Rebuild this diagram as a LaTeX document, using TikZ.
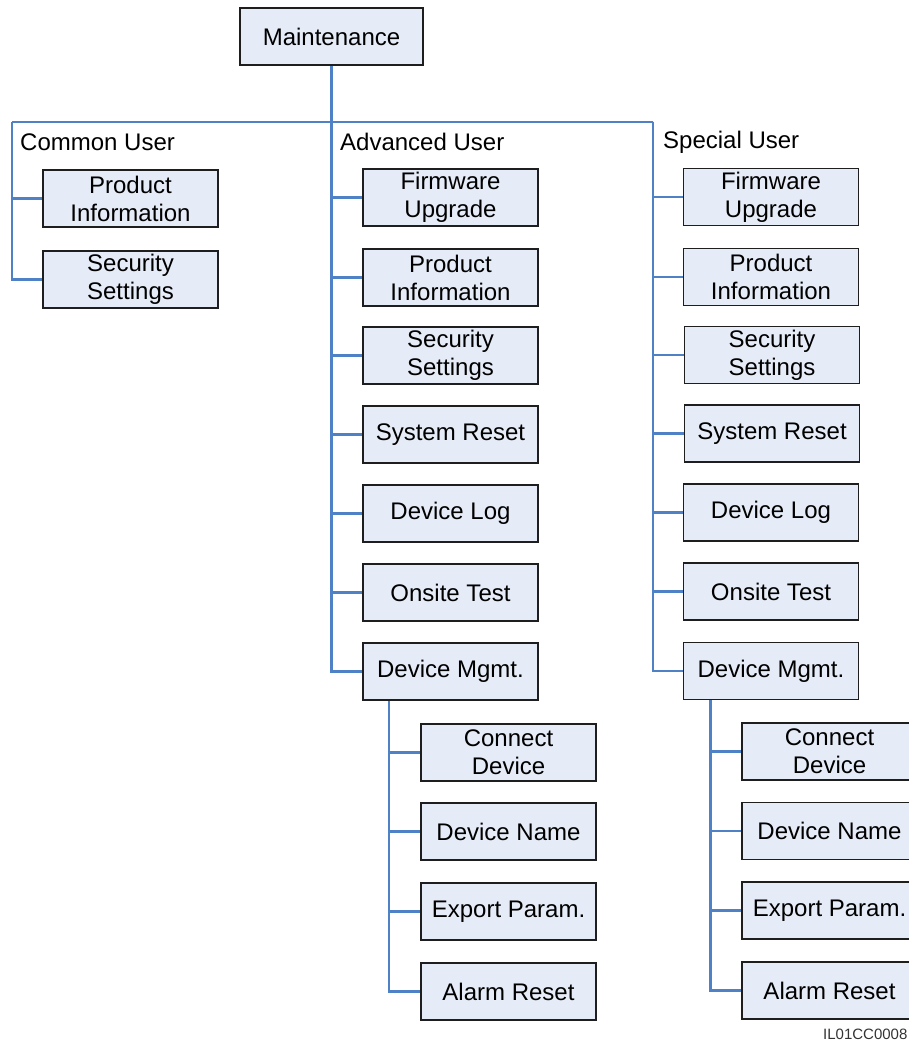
\documentclass[tikz,border=0pt]{standalone}
\usepackage{fontspec}
\setmainfont{Liberation Sans}
\definecolor{linkblue}{RGB}{79,129,199}
\definecolor{boxfill}{RGB}{230,236,247}
\definecolor{boxline}{RGB}{30,30,30}
\begin{document}
\begin{tikzpicture}[x=1pt,y=-1pt,
  box/.style={draw=boxline,line width=1.8pt,fill=boxfill,minimum width=175pt,minimum height=57pt,inner sep=0pt,align=center,font=\fontsize{24}{28}\selectfont},
  grp/.style={anchor=base west,inner sep=0pt,font=\fontsize{24}{28}\selectfont},
  treelink/.style={draw=linkblue,line width=2.4pt}]
\useasboundingbox (0,0) rectangle (909,1043);
\clip (0,0) rectangle (909,1043);
% top
\node[box,minimum width=183pt] (maint) at (331.5,36.5) {Maintenance};
\coordinate (busL) at (12,122);
\coordinate (busM) at (331.5,122);
\coordinate (busR) at (653,122);
% group labels
\node[grp] (gc) at (20,151) {Common User};
\node[grp] (ga) at (340,151) {Advanced User};
\node[grp] (gs) at (663,149) {Special User};
% common
\node[box] (c1) at (130.5,198.5) {Product\\Information};
\node[box] (c2) at (130.5,279.5) {Security\\Settings};
% advanced
\node[box] (a1) at (450.5,197.5) {Firmware\\Upgrade};
\node[box] (a2) at (450.5,277.5) {Product\\Information};
\node[box] (a3) at (450.5,355.5) {Security\\Settings};
\node[box] (a4) at (450.5,434.5) {System Reset};
\node[box] (a5) at (450.5,513.5) {Device Log};
\node[box] (a6) at (450.5,592.5) {Onsite Test};
\node[box] (a7) at (450.5,671.5) {Device Mgmt.};
\node[box] (ad1) at (508.5,752.5) {Connect\\Device};
\node[box] (ad2) at (508.5,831.5) {Device Name};
\node[box] (ad3) at (508.5,911.5) {Export Param.};
\node[box] (ad4) at (508.5,991.5) {Alarm Reset};
% special
\node[box] (s1) at (771,197) {Firmware\\Upgrade};
\node[box] (s2) at (771,277) {Product\\Information};
\node[box] (s3) at (772,355) {Security\\Settings};
\node[box] (s4) at (772,433.5) {System Reset};
\node[box] (s5) at (771,512.5) {Device Log};
\node[box] (s6) at (771,591.5) {Onsite Test};
\node[box] (s7) at (771,671) {Device Mgmt.};
\node[box] (sd1) at (829.5,751.5) {Connect\\Device};
\node[box] (sd2) at (829.5,831) {Device Name};
\node[box] (sd3) at (829.5,910.5) {Export Param.};
\node[box] (sd4) at (829.5,990.5) {Alarm Reset};
% sub spines
\coordinate (aspine) at ([xshift=27pt]a7.south west);
\coordinate (sspine) at ([xshift=28pt]s7.south west);
% connectors
\draw[treelink] (maint.south) -- (busM);
\draw[treelink] (busL) -- (busR);
\draw[treelink] (busL) |- (c1.west);
\draw[treelink] (busL) |- (c2.west);
\foreach \n in {a1,a2,a3,a4,a5,a6,a7} \draw[treelink] (busM) |- (\n.west);
\foreach \n in {s1,s2,s3,s4,s5,s6,s7} \draw[treelink] (busR) |- (\n.west);
\foreach \n in {ad1,ad2,ad3,ad4} \draw[treelink] (aspine) |- (\n.west);
\foreach \n in {sd1,sd2,sd3,sd4} \draw[treelink] (sspine) |- (\n.west);
% id label
\node[anchor=base west,inner sep=0pt,font=\fontsize{15}{18}\selectfont,text=black!80] (id) at (823,1039) {IL01CC0008};
\end{tikzpicture}
\end{document}
